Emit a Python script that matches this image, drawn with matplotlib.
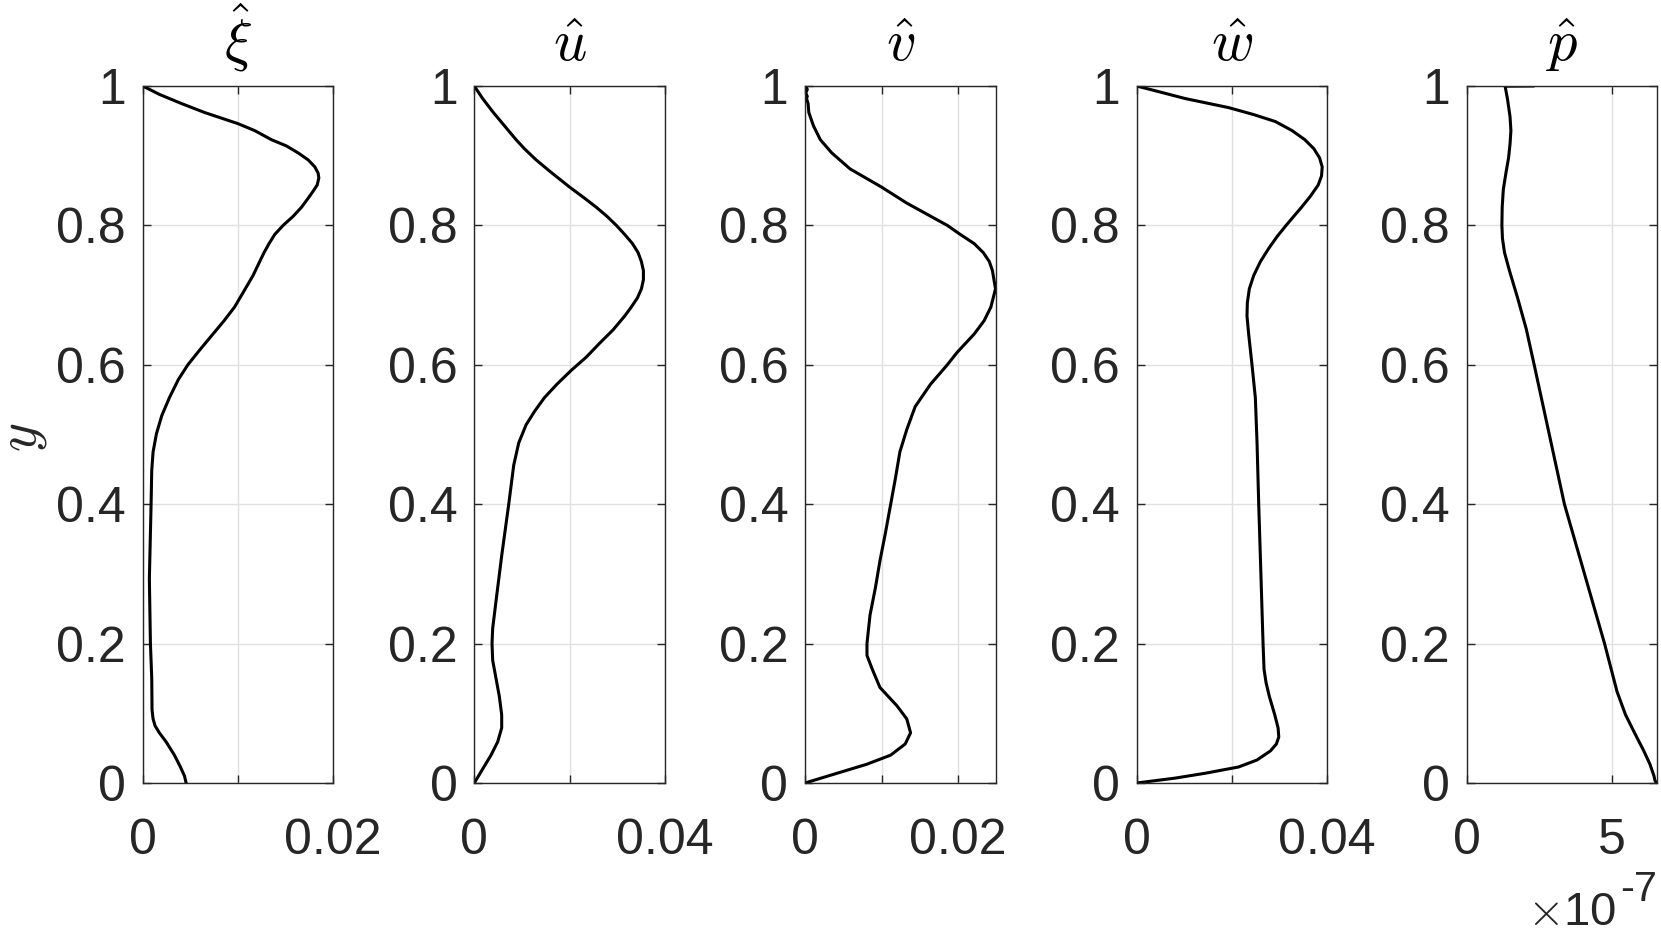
import matplotlib

matplotlib.use("Agg")

import matplotlib.pyplot as plt
import numpy as np

plt.rcParams["font.family"] = ["Liberation Sans", "DejaVu Sans"]
plt.rcParams["mathtext.fontset"] = "cm"

# profiles, (value, y) pairs from y = 1 down to y = 0
xi_y = [1.0, 0.988, 0.975, 0.962, 0.946, 0.936, 0.923, 0.914, 0.904, 0.894, 0.884,
        0.875, 0.868, 0.858, 0.849, 0.839, 0.826, 0.813, 0.80, 0.787, 0.774, 0.761,
        0.748, 0.728, 0.709, 0.683, 0.663, 0.644, 0.621, 0.60, 0.579, 0.553, 0.527,
        0.501, 0.475, 0.449, 0.40, 0.293, 0.20, 0.150, 0.105, 0.092, 0.082, 0.072,
        0.059, 0.040, 0.023, 0.010, 0.0]
xi_val = [0.0, 0.00175, 0.00404, 0.00649, 0.0100, 0.01176, 0.01351, 0.01509, 0.01632,
          0.01737, 0.01807, 0.01842, 0.01849, 0.01832, 0.01789, 0.01737, 0.01667,
          0.01579, 0.01474, 0.01386, 0.01327, 0.01274, 0.01228, 0.01158, 0.01077,
          0.00965, 0.00853, 0.00737, 0.00597, 0.00474, 0.00375, 0.00281, 0.00200,
          0.00144, 0.00109, 0.00095, 0.00088, 0.00070, 0.00081, 0.00095, 0.00098,
          0.00109, 0.00130, 0.00175, 0.00246, 0.00333, 0.00396, 0.00439, 0.00456]

u_y = [1.0, 0.982, 0.962, 0.943, 0.923, 0.910, 0.894, 0.878, 0.855, 0.839, 0.826,
       0.813, 0.80, 0.787, 0.774, 0.761, 0.748, 0.735, 0.722, 0.709, 0.696, 0.683,
       0.670, 0.650, 0.631, 0.611, 0.592, 0.572, 0.553, 0.533, 0.514, 0.488, 0.456,
       0.40, 0.326, 0.261, 0.222, 0.20, 0.176, 0.150, 0.124, 0.098, 0.079, 0.059,
       0.040, 0.020, 0.0]
u_val = [0.0, 0.00175, 0.0040, 0.00632, 0.00877, 0.01053, 0.01298, 0.01579, 0.0200,
         0.02316, 0.02562, 0.02786, 0.02983, 0.03158, 0.0332, 0.03439, 0.03509,
         0.03551, 0.03551, 0.03509, 0.03425, 0.03298, 0.03158, 0.02912, 0.02632,
         0.02351, 0.02035, 0.01733, 0.01474, 0.01263, 0.01088, 0.00933, 0.00828,
         0.00723, 0.00575, 0.00456, 0.00386, 0.00372, 0.00386, 0.00456, 0.00526,
         0.00575, 0.00575, 0.00491, 0.00351, 0.00175, 0.0]

v_y = [1.0, 0.995, 0.99, 0.985, 0.982, 0.975, 0.962, 0.943, 0.923, 0.904, 0.881,
       0.855, 0.832, 0.80, 0.787, 0.774, 0.761, 0.748, 0.735, 0.722, 0.709, 0.683,
       0.663, 0.644, 0.618, 0.60, 0.572, 0.540, 0.507, 0.475, 0.436, 0.40, 0.358,
       0.319, 0.280, 0.241, 0.20, 0.183, 0.163, 0.137, 0.111, 0.092, 0.072, 0.056,
       0.040, 0.027, 0.014, 0.0]
v_val = [0.0001, 0.0003, 0.0001, 0.0003, 0.0002, 0.0004, 0.0005, 0.0011, 0.0020,
         0.0035, 0.0059, 0.0100, 0.0133, 0.0186, 0.0203, 0.0221, 0.0233, 0.0241,
         0.0245, 0.0247, 0.0249, 0.0243, 0.0234, 0.0221, 0.0199, 0.0186, 0.0164,
         0.0144, 0.0133, 0.0124, 0.0118, 0.0112, 0.0105, 0.0098, 0.0092, 0.0085,
         0.0081, 0.0081, 0.0088, 0.0098, 0.0120, 0.0133, 0.0138, 0.0131, 0.0112,
         0.0081, 0.0042, 0.0]

w_y = [1.0, 0.992, 0.982, 0.969, 0.959, 0.949, 0.936, 0.923, 0.910, 0.897, 0.884,
       0.871, 0.858, 0.842, 0.826, 0.813, 0.80, 0.784, 0.767, 0.748, 0.728, 0.709,
       0.689, 0.670, 0.644, 0.60, 0.553, 0.488, 0.40, 0.293, 0.20, 0.163, 0.144,
       0.124, 0.098, 0.079, 0.066, 0.056, 0.046, 0.033, 0.023, 0.014, 0.007, 0.0]
w_val = [0.0, 0.00456, 0.01018, 0.0193, 0.02456, 0.02912, 0.03263, 0.0353, 0.0372,
         0.03839, 0.03895, 0.03881, 0.03811, 0.03649, 0.0346, 0.03298, 0.03137,
         0.02948, 0.02772, 0.02597, 0.02456, 0.02365, 0.02323, 0.02316, 0.02351,
         0.02421, 0.02491, 0.02527, 0.02562, 0.02611, 0.02653, 0.02674, 0.02716,
         0.02786, 0.02898, 0.02969, 0.02983, 0.02933, 0.02807, 0.02526, 0.0214,
         0.01439, 0.00807, 0.0]

p_y = [1.0, 0.9997, 0.982, 0.956, 0.936, 0.917, 0.897, 0.878, 0.852, 0.826, 0.80,
       0.781, 0.761, 0.735, 0.696, 0.651, 0.60, 0.40, 0.20, 0.163, 0.131, 0.098,
       0.072, 0.046, 0.027, 0.010, 0.004, 0.0]
p_val = np.array([2.28, 1.32, 1.40, 1.49, 1.52, 1.49, 1.44, 1.36, 1.26, 1.22, 1.21,
                  1.23, 1.30, 1.47, 1.75, 2.05, 2.32, 3.36, 4.74, 4.97, 5.17, 5.46,
                  5.77, 6.09, 6.30, 6.44, 6.47, 6.52]) * 1e-7

titles = [r"$\hat{\xi}$", r"$\hat{u}$", r"$\hat{v}$", r"$\hat{w}$", r"$\hat{p}$"]
x_limits = [(0, 0.02), (0, 0.04), (0, 0.0249), (0, 0.04), (0, 6.55e-7)]
x_ticks = [[0, 0.01, 0.02], [0, 0.02, 0.04], [0, 0.01, 0.02], [0, 0.02, 0.04], [0, 5e-7]]
x_labels = [["0", "", "0.02"], ["0", "", "0.04"], ["0", "", "0.02"], ["0", "", "0.04"], ["0", "5"]]
y_ticks = [0, 0.2, 0.4, 0.6, 0.8, 1.0]
y_labels = ["0", "0.2", "0.4", "0.6", "0.8", "1"]

profiles = [(xi_val, xi_y), (u_val, u_y), (v_val, v_y), (w_val, w_y), (p_val, p_y)]

W, H = 1661, 936
fig = plt.figure(figsize=(W / 100, H / 100), dpi=100)

lefts = [142.7, 474.3, 805.0, 1136.7, 1466.7]
ax_w = 190.5
ax_top, ax_bot = 86, 783
dark = "#262626"

for i, (vals, ys) in enumerate(profiles):
    ax = fig.add_axes([lefts[i] / W, 1 - ax_bot / H, ax_w / W, (ax_bot - ax_top) / H])
    ax.plot(vals, ys, color="black", linewidth=2.2, solid_joinstyle="round")
    ax.set_xlim(*x_limits[i])
    ax.set_ylim(0, 1)
    ax.set_xticks(x_ticks[i], x_labels[i])
    ax.set_yticks(y_ticks, y_labels)
    ax.tick_params(axis="both", direction="in", top=True, right=True, length=6,
                   width=1.0, colors=dark, labelsize=36)
    ax.tick_params(axis="x", pad=25)
    ax.tick_params(axis="y", pad=12)
    ax.grid(True, color="#e0e0e0", linewidth=1.0)
    ax.set_axisbelow(True)
    for sp in ax.spines.values():
        sp.set_color(dark)
        sp.set_linewidth(1.0)
    ax.set_title(titles[i], fontsize=42, pad=18, color="black")

fig.text(23 / W, 1 - 437 / H, r"$y$", rotation=90, ha="center", va="center",
         fontsize=40, color=dark)

# MATLAB-style exponent label under the last panel
fig.text(1616 / W, 1 - 925 / H, r"$\times\mathdefault{10}$", ha="right",
         va="baseline", fontsize=34, color=dark)
fig.text(1657 / W, 1 - 901 / H, "-7", ha="right", va="baseline",
         fontsize=30, color=dark)

fig.savefig("out.png", dpi=100)
